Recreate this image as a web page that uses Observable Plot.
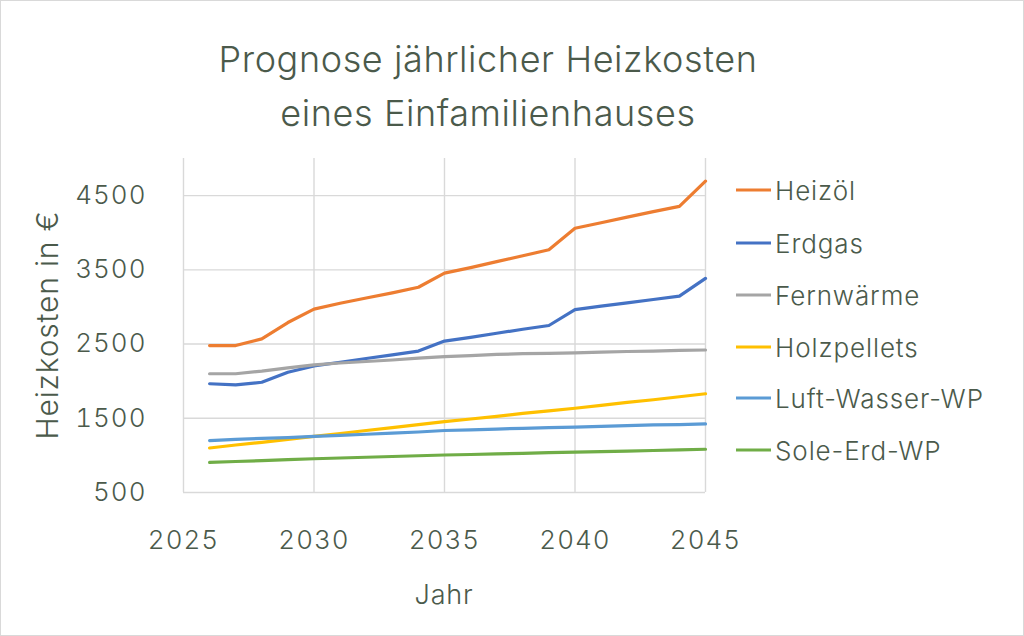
<!DOCTYPE html>
<html><head><meta charset="utf-8">
<script src="https://cdn.jsdelivr.net/npm/d3@7"></script>
<script src="https://cdn.jsdelivr.net/npm/@observablehq/plot@0.6"></script>
<style>
html,body{margin:0;padding:0;background:#fff;}
#wrap{position:relative;width:1024px;height:636px;overflow:hidden;font-family:Inter,"Open Sans",sans-serif;font-weight:300;color:#4b5a4b;}
#border{position:absolute;left:0;top:0;width:1024px;height:636px;box-sizing:border-box;border:1.5px solid #d9d9d9;pointer-events:none;}
#chart{position:absolute;left:0;top:0;}
#chart svg text{letter-spacing:1px;}
.title{position:absolute;left:0;width:976px;text-align:center;font-size:36px;letter-spacing:0.6px;white-space:nowrap;}
#ytitle{position:absolute;left:47px;top:325px;transform:translate(-50%,-50%) rotate(-90deg);font-size:30px;letter-spacing:0.8px;white-space:nowrap;}
#xtitle{position:absolute;left:444px;top:594px;transform:translate(-50%,-50%);font-size:27px;letter-spacing:0.8px;}
.leg{position:absolute;left:736px;display:flex;align-items:center;font-size:26px;letter-spacing:0.9px;white-space:nowrap;transform:translateY(-50%);}
.leg span.sw{display:inline-block;width:35px;height:3px;margin-right:4px;}
</style></head>
<body>
<div id="wrap">
  <div id="chart"></div>
  <div class="title" style="top:37px">Prognose jährlicher Heizkosten</div>
  <div class="title" style="top:91px">eines Einfamilienhauses</div>
  <div id="ytitle">Heizkosten in €</div>
  <div id="xtitle">Jahr</div>
  <div id="legend"></div>
  <div id="border"></div>
</div>
<script>
const years = [2026,2027,2028,2029,2030,2031,2032,2033,2034,2035,2036,2037,2038,2039,2040,2041,2042,2043,2044,2045];
const names = ["Heizöl","Erdgas","Fernwärme","Holzpellets","Luft-Wasser-WP","Sole-Erd-WP"];
const colors = ["#ED7D31","#4472C4","#A5A5A5","#FFC000","#5B9BD5","#70AD47"];
const heizoel = [2480,2480,2570,2790,2970,3050,3120,3190,3265,3455,3530,3610,3690,3770,4060,4135,4210,4285,4355,4695];
const erdgas = [1965,1950,1985,2120,2205,2255,2305,2355,2405,2540,2590,2645,2700,2750,2965,3010,3055,3100,3145,3385];
const fernwaerme = [2100,2100,2135,2180,2220,2245,2265,2285,2310,2330,2345,2360,2370,2375,2380,2390,2400,2405,2415,2420];
const holzpellets = [1100,1140,1175,1215,1255,1295,1335,1375,1415,1455,1490,1525,1565,1600,1635,1675,1715,1750,1790,1830];
const luftWasser = [1200,1215,1230,1240,1255,1270,1285,1300,1315,1335,1345,1355,1365,1375,1380,1390,1400,1410,1415,1425];
const soleErd = [905,918,930,942,955,965,975,985,995,1005,1012,1020,1028,1036,1043,1050,1058,1066,1075,1083];
const xTicks = [2025,2030,2035,2040,2045];
const yTicks = [500,1500,2500,3500,4500];

const seriesValues = [heizoel, erdgas, fernwaerme, holzpellets, luftWasser, soleErd];
const rows = names.flatMap((n, s) => seriesValues[s].map((v, i) => ({name: n, year: years[i], value: v})));

const chart = Plot.plot({
  width: 1024, height: 636,
  marginLeft: 183, marginRight: 319, marginTop: 158, marginBottom: 144,
  style: {fontFamily: 'Inter,"Open Sans",sans-serif', fontSize: "26px", fontWeight: 300, color: "#4b5a4b", background: "transparent"},
  x: {domain: [2025, 2045]},
  y: {domain: [500, 5000]},
  color: {domain: names, range: colors},
  marks: [
    Plot.gridX({ticks: xTicks, stroke: "#d9d9d9", strokeOpacity: 1, strokeWidth: 1.4}),
    Plot.gridY({ticks: yTicks, stroke: "#d9d9d9", strokeOpacity: 1, strokeWidth: 1.4}),
    Plot.axisX({ticks: xTicks, tickSize: 0, tickPadding: 38, tickFormat: d => String(d), label: null}),
    Plot.axisY({ticks: yTicks, tickSize: 0, tickPadding: 37, tickFormat: d => String(d), label: null}),
    Plot.line(rows, {x: "year", y: "value", z: "name", stroke: "name", strokeWidth: 3.2, strokeLinejoin: "round", strokeLinecap: "round"})
  ]
});
document.getElementById("chart").appendChild(chart);

const legY = [190,243,295,347,398,450];
const legend = document.getElementById("legend");
names.forEach((n, i) => {
  const d = document.createElement("div");
  d.className = "leg";
  d.style.top = legY[i] + "px";
  d.innerHTML = `<span class="sw" style="background:${colors[i]}"></span><span>${n}</span>`;
  legend.appendChild(d);
});
</script>
</body></html>
